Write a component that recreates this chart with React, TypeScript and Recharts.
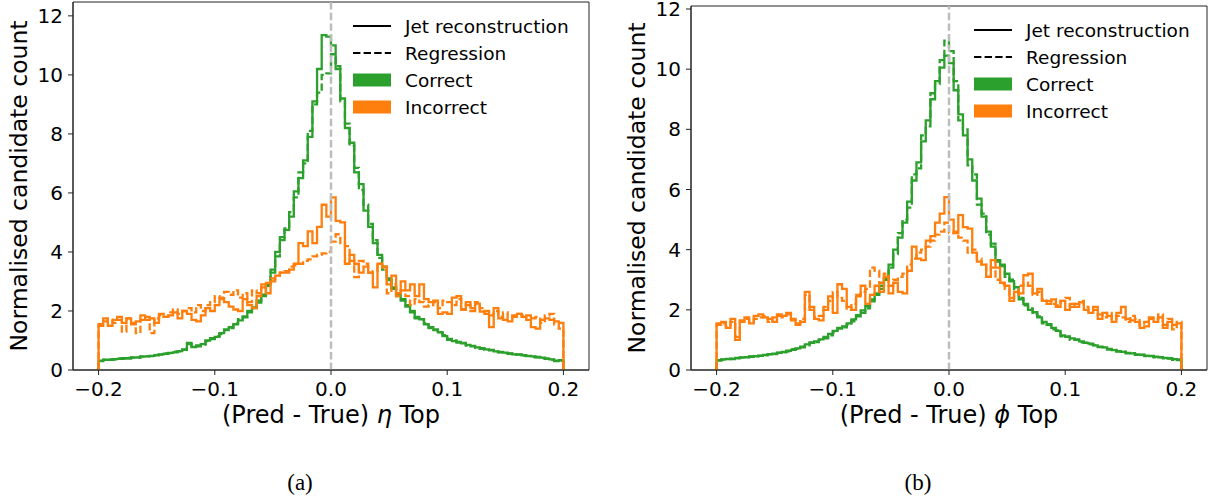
import React from 'react';
import { ComposedChart, Line, XAxis, YAxis, ReferenceLine, ReferenceArea, Legend, Label } from 'recharts';

// ---------- data ----------
const BIN_START = -0.2;
const BIN_WIDTH = 0.004;
const N_BINS = 100;
const BIN_EDGES: number[] = Array.from({ length: N_BINS + 1 }, (_, i) => +(BIN_START + BIN_WIDTH * i).toFixed(4));

const X_TICKS = [-0.2, -0.1, 0, 0.1, 0.2];
const X_TICK_LABELS = ['\u22120.2', '\u22120.1', '0.0', '0.1', '0.2'];
const Y_TICKS = [0, 2, 4, 6, 8, 10, 12];
const Y_TICK_LABELS = ['0', '2', '4', '6', '8', '10', '12'];

const LEGEND_LABELS = ['Jet reconstruction', 'Regression', 'Correct', 'Incorrect'];

// Panel (a): eta
const A_JET_CORRECT = [
  0.32, 0.35, 0.34, 0.37, 0.38, 0.40, 0.39, 0.42, 0.43, 0.45,
  0.46, 0.48, 0.50, 0.53, 0.55, 0.58, 0.60, 0.64, 0.68, 0.92,
  0.78, 0.80, 0.88, 1.00, 1.05, 1.12, 1.25, 1.35, 1.45, 1.55,
  1.68, 1.82, 1.95, 2.10, 2.28, 2.50, 2.90, 3.30, 4.00, 4.40,
  4.75, 5.20, 6.05, 6.50, 7.10, 7.90, 9.10, 10.20, 11.35, 11.30,
  11.00, 10.20, 9.20, 8.20, 7.70, 6.70, 6.30, 5.40, 4.85, 4.30,
  3.90, 3.50, 3.10, 2.80, 2.55, 2.35, 2.20, 1.95, 1.80, 1.72,
  1.55, 1.45, 1.35, 1.28, 1.15, 1.05, 0.98, 0.95, 0.90, 0.85,
  0.80, 0.77, 0.72, 0.70, 0.67, 0.63, 0.60, 0.59, 0.55, 0.53,
  0.52, 0.50, 0.47, 0.46, 0.43, 0.42, 0.38, 0.36, 0.30, 0.33,
];
const A_REG_CORRECT = [
  0.30, 0.34, 0.36, 0.35, 0.39, 0.38, 0.41, 0.43, 0.42, 0.46,
  0.47, 0.47, 0.51, 0.52, 0.56, 0.57, 0.62, 0.63, 0.70, 0.88,
  0.80, 0.83, 0.86, 0.98, 1.08, 1.15, 1.22, 1.38, 1.42, 1.58,
  1.72, 1.78, 2.00, 2.12, 2.35, 2.55, 2.85, 3.40, 3.85, 4.50,
  4.80, 5.35, 5.85, 6.70, 7.00, 8.10, 9.00, 9.40, 10.00, 10.05,
  10.70, 10.30, 9.10, 8.35, 7.60, 6.85, 6.10, 5.60, 4.95, 4.40,
  3.80, 3.40, 3.05, 2.75, 2.50, 2.40, 2.15, 2.00, 1.75, 1.70,
  1.58, 1.42, 1.38, 1.25, 1.18, 1.02, 1.00, 0.93, 0.92, 0.83,
  0.82, 0.75, 0.74, 0.68, 0.68, 0.62, 0.61, 0.57, 0.56, 0.52,
  0.53, 0.48, 0.48, 0.44, 0.44, 0.40, 0.39, 0.34, 0.32, 0.31,
];
const A_JET_INCORRECT = [
  1.55, 1.75, 1.50, 1.70, 1.80, 1.60, 1.75, 1.55, 1.65, 1.85,
  1.70, 1.75, 1.60, 1.90, 1.80, 1.85, 1.95, 1.75, 2.00, 1.90,
  1.70, 1.65, 1.85, 2.10, 2.00, 2.20, 2.40, 2.30, 2.15, 2.05,
  2.00, 2.40, 2.20, 2.10, 2.50, 2.90, 2.60, 3.00, 3.20, 3.30,
  3.30, 3.40, 3.60, 4.30, 4.20, 4.70, 4.30, 4.85, 5.60, 5.20,
  5.85, 5.05, 5.00, 3.60, 3.90, 3.60, 3.30, 3.50, 3.30, 2.80,
  3.60, 3.50, 2.90, 3.20, 2.60, 3.00, 2.70, 2.90, 2.50, 2.90,
  2.40, 2.30, 2.35, 1.90, 1.95, 1.90, 2.45, 2.50, 2.05, 2.30,
  2.10, 2.25, 1.98, 2.00, 1.45, 2.10, 1.75, 1.70, 1.65, 1.85,
  1.90, 1.80, 1.85, 1.45, 1.40, 1.70, 1.75, 1.70, 1.65, 1.60,
];
const A_REG_INCORRECT = [
  1.50, 1.65, 1.70, 1.60, 1.70, 1.30, 1.75, 1.60, 1.25, 1.70,
  1.80, 1.25, 1.75, 1.85, 1.80, 1.95, 2.05, 1.90, 2.00, 2.10,
  1.95, 2.20, 2.00, 2.20, 2.30, 2.50, 2.45, 2.65, 2.55, 2.70,
  2.45, 2.60, 2.30, 2.70, 2.60, 2.80, 2.95, 3.10, 3.20, 3.30,
  3.35, 3.50, 3.55, 3.60, 3.70, 3.75, 3.85, 3.90, 3.95, 4.00,
  4.35, 4.60, 4.30, 4.20, 3.70, 3.15, 3.70, 3.60, 3.30, 3.35,
  3.60, 3.40, 2.60, 2.90, 2.50, 2.70, 2.50, 2.20, 2.40, 2.30,
  2.15, 2.20, 2.30, 2.10, 2.35, 2.30, 2.20, 2.40, 2.05, 2.20,
  2.00, 2.30, 2.10, 1.90, 1.85, 2.00, 1.80, 1.95, 1.75, 1.80,
  1.90, 1.85, 1.70, 1.75, 1.80, 1.60, 1.85, 1.90, 1.55, 1.40,
];

// Panel (b): phi
const B_JET_CORRECT = [
  0.33, 0.35, 0.37, 0.36, 0.40, 0.41, 0.43, 0.44, 0.46, 0.47,
  0.50, 0.52, 0.54, 0.57, 0.60, 0.64, 0.67, 0.72, 0.78, 0.85,
  0.90, 0.95, 1.02, 1.10, 1.20, 1.30, 1.38, 1.45, 1.55, 1.68,
  1.82, 1.98, 2.12, 2.35, 2.55, 2.70, 3.05, 3.50, 4.00, 4.40,
  4.90, 5.60, 6.30, 6.90, 7.60, 8.30, 9.00, 9.60, 10.05, 10.45,
  10.20, 9.30, 8.50, 7.80, 7.00, 6.30, 5.70, 5.10, 4.60, 4.10,
  3.65, 3.45, 3.20, 2.95, 2.75, 2.35, 2.20, 2.00, 1.92, 1.75,
  1.60, 1.50, 1.40, 1.30, 1.15, 1.10, 1.05, 1.00, 0.95, 0.90,
  0.88, 0.82, 0.78, 0.75, 0.70, 0.66, 0.63, 0.60, 0.57, 0.55,
  0.52, 0.50, 0.48, 0.46, 0.44, 0.42, 0.40, 0.38, 0.36, 0.33,
];
const B_REG_CORRECT = [
  0.31, 0.34, 0.36, 0.38, 0.39, 0.42, 0.42, 0.45, 0.45, 0.48,
  0.49, 0.53, 0.53, 0.58, 0.59, 0.62, 0.69, 0.70, 0.75, 0.82,
  0.92, 0.93, 1.00, 1.05, 1.15, 1.25, 1.40, 1.42, 1.50, 1.62,
  1.78, 1.90, 2.05, 2.28, 2.50, 2.80, 3.00, 3.40, 3.85, 4.55,
  5.00, 5.40, 6.50, 6.70, 7.80, 8.10, 9.20, 9.50, 10.30, 10.95,
  10.60, 9.60, 8.30, 8.00, 6.80, 6.50, 5.50, 5.20, 4.50, 4.20,
  3.60, 3.50, 3.10, 3.00, 2.65, 2.40, 2.15, 2.05, 1.85, 1.78,
  1.55, 1.52, 1.35, 1.32, 1.12, 1.12, 1.00, 1.02, 0.92, 0.91,
  0.85, 0.83, 0.76, 0.76, 0.68, 0.67, 0.61, 0.61, 0.55, 0.56,
  0.50, 0.51, 0.46, 0.47, 0.42, 0.43, 0.39, 0.39, 0.34, 0.35,
];
const B_JET_INCORRECT = [
  1.55, 1.60, 1.40, 1.70, 1.00, 1.65, 1.75, 1.55, 1.80, 1.85,
  1.75, 1.70, 1.60, 1.85, 1.80, 1.90, 1.70, 1.50, 1.60, 2.60,
  2.10, 1.70, 1.65, 2.00, 2.45, 1.90, 2.85, 2.70, 2.10, 2.00,
  2.45, 2.80, 2.20, 2.50, 2.80, 2.60, 3.10, 2.55, 2.90, 2.60,
  2.55, 3.30, 4.10, 3.70, 3.65, 4.30, 4.45, 4.90, 5.20, 5.75,
  5.00, 4.55, 5.15, 4.75, 4.70, 3.90, 3.60, 3.50, 3.10, 3.65,
  3.40, 2.90, 2.80, 2.30, 2.60, 2.55, 3.15, 3.20, 2.55, 2.70,
  2.30, 2.20, 2.35, 2.10, 2.30, 2.00, 2.20, 2.10, 2.25, 2.00,
  1.90, 2.10, 1.70, 1.90, 1.80, 1.60, 1.90, 2.10, 1.70, 1.65,
  1.60, 1.40, 1.45, 1.70, 1.60, 1.75, 1.40, 1.60, 1.50, 1.55,
];
const B_REG_INCORRECT = [
  1.50, 1.55, 1.45, 1.60, 1.10, 1.60, 1.70, 1.60, 1.70, 1.75,
  1.80, 1.60, 1.75, 1.80, 1.75, 1.85, 1.65, 1.55, 1.70, 2.50,
  2.00, 1.75, 1.80, 2.10, 2.30, 2.60, 2.40, 2.30, 2.00, 2.20,
  2.50, 2.60, 2.70, 3.40, 3.30, 2.90, 3.20, 2.80, 3.00, 3.10,
  3.20, 3.50, 3.70, 3.90, 4.00, 4.10, 4.30, 4.50, 4.60, 4.90,
  4.55, 4.60, 4.40, 4.30, 3.90, 4.00, 3.70, 3.50, 3.30, 3.40,
  3.00, 2.85, 2.70, 2.40, 2.50, 2.80, 2.90, 2.80, 2.50, 2.60,
  2.35, 2.30, 2.20, 2.15, 2.30, 2.40, 2.10, 2.20, 2.30, 2.10,
  1.95, 2.00, 1.85, 1.75, 1.90, 1.70, 1.80, 1.75, 1.60, 1.80,
  1.70, 1.50, 1.60, 1.75, 1.70, 1.85, 1.50, 1.70, 1.35, 1.60,
];

// ---------- styling ----------
const GREEN = '#2ca02c';
const ORANGE = '#ff7f0e';
const FONT = 'DejaVu Sans, sans-serif';
const DASH = '7.4 3.2';
const LW = 2.3;
const X_DOMAIN: [number, number] = [-0.222, 0.222];

type Row = { x: number; jc: number; rc: number; ji: number; ri: number };

function buildTable(jc: number[], rc: number[], ji: number[], ri: number[]): Row[] {
  const rows: Row[] = [];
  rows.push({ x: BIN_EDGES[0], jc: 0, rc: 0, ji: 0, ri: 0 });
  for (let i = 0; i < N_BINS; i++) {
    rows.push({ x: BIN_EDGES[i], jc: jc[i], rc: rc[i], ji: ji[i], ri: ri[i] });
  }
  const L = N_BINS - 1;
  rows.push({ x: BIN_EDGES[N_BINS], jc: jc[L], rc: rc[L], ji: ji[L], ri: ri[L] });
  rows.push({ x: BIN_EDGES[N_BINS], jc: 0, rc: 0, ji: 0, ri: 0 });
  return rows;
}

const DATA_A = buildTable(A_JET_CORRECT, A_REG_CORRECT, A_JET_INCORRECT, A_REG_INCORRECT);
const DATA_B = buildTable(B_JET_CORRECT, B_REG_CORRECT, B_JET_INCORRECT, B_REG_INCORRECT);

function LegendBox() {
  return (
    <div style={{ fontFamily: FONT, fontSize: 18.5, color: '#000', lineHeight: '27px' }}>
      {LEGEND_LABELS.map((lab, i) => (
        <div key={lab} style={{ display: 'flex', alignItems: 'center', height: 27, whiteSpace: 'nowrap' }}>
          <svg width={38} height={14} style={{ marginRight: 14, display: 'block' }}>
            {i === 0 && <line x1={0} y1={7} x2={38} y2={7} stroke="#000" strokeWidth={2.2} />}
            {i === 1 && <line x1={0} y1={7} x2={38} y2={7} stroke="#000" strokeWidth={2.2} strokeDasharray={DASH} />}
            {i === 2 && <rect x={0} y={0.5} width={38} height={13} fill={GREEN} />}
            {i === 3 && <rect x={0} y={0.5} width={38} height={13} fill={ORANGE} />}
          </svg>
          <span>{lab}</span>
        </div>
      ))}
    </div>
  );
}

type PanelProps = {
  data: Row[];
  width: number;
  marginRight: number;
  marginTop: number;
  yMax: number;
  symbol: string;
  legendLeft: number;
  legendTop: number;
};

function Panel({ data, width, marginRight, marginTop, yMax, symbol, legendLeft, legendTop }: PanelProps) {
  const tickStyle = { fontSize: 20, fontFamily: FONT, fill: '#000' };
  const axisLine = { stroke: '#222', strokeWidth: 1 };
  return (
    <ComposedChart
      width={width}
      height={440}
      data={data}
      margin={{ top: marginTop, right: marginRight, bottom: 10, left: 23 }}
    >
      <XAxis
        dataKey="x"
        type="number"
        domain={X_DOMAIN}
        allowDataOverflow
        ticks={X_TICKS}
        tickFormatter={(v: number) => X_TICK_LABELS[X_TICKS.indexOf(v)] ?? String(v)}
        tick={tickStyle}
        tickSize={5}
        tickMargin={7}
        tickLine={{ stroke: '#222' }}
        axisLine={axisLine}
        height={60}
        interval={0}
      >
        <Label
          content={(props: any) => {
            const vb = props.viewBox || {};
            const cx = vb.x + vb.width / 2;
            const y = vb.y + 53;
            return (
              <text x={cx} y={y} textAnchor="middle" fontFamily={FONT} fontSize={24} fill="#000">
                <tspan>(Pred - True) </tspan>
                <tspan fontStyle="italic">{symbol}</tspan>
                <tspan> Top</tspan>
              </text>
            );
          }}
        />
      </XAxis>
      <YAxis
        type="number"
        domain={[0, yMax]}
        allowDataOverflow
        ticks={Y_TICKS}
        tickFormatter={(v: number) => Y_TICK_LABELS[Y_TICKS.indexOf(v)] ?? String(v)}
        tick={tickStyle}
        tickSize={5}
        tickMargin={5}
        tickLine={{ stroke: '#222' }}
        axisLine={axisLine}
        width={50}
        interval={0}
      >
        <Label
          content={(props: any) => {
            const vb = props.viewBox || {};
            const x = 27;
            const cy = vb.y + vb.height / 2;
            return (
              <text
                x={x}
                y={cy}
                textAnchor="middle"
                transform={`rotate(-90, ${x}, ${cy})`}
                fontFamily={FONT}
                fontSize={23.5}
                fill="#000"
              >
                Normalised candidate count
              </text>
            );
          }}
        />
      </YAxis>
      <ReferenceArea x1={X_DOMAIN[0]} x2={X_DOMAIN[1]} y1={0} y2={yMax} fill="none" fillOpacity={0} stroke="#222" strokeWidth={1} ifOverflow="visible" />
      <Line type="stepAfter" dataKey="jc" stroke={GREEN} strokeWidth={LW} dot={false} activeDot={false} isAnimationActive={false} />
      <Line type="stepAfter" dataKey="rc" stroke={GREEN} strokeWidth={LW} strokeDasharray={DASH} dot={false} activeDot={false} isAnimationActive={false} />
      <Line type="stepAfter" dataKey="ji" stroke={ORANGE} strokeWidth={LW} dot={false} activeDot={false} isAnimationActive={false} />
      <Line type="stepAfter" dataKey="ri" stroke={ORANGE} strokeWidth={LW} strokeDasharray={DASH} dot={false} activeDot={false} isAnimationActive={false} />
      <ReferenceLine x={0} stroke="#bdbdbd" strokeWidth={2.5} strokeDasharray={DASH} />
      <Legend
        layout="vertical"
        align="center"
        verticalAlign="middle"
        content={() => <LegendBox />}
        wrapperStyle={{ position: 'absolute', left: legendLeft, top: legendTop, width: 240, height: 110 }}
      />
    </ComposedChart>
  );
}

export default function App() {
  return (
    <div style={{ position: 'absolute', left: 0, top: 0, width: 1216, height: 504, background: '#fff', overflow: 'hidden' }}>
      <div style={{ position: 'absolute', left: 0, top: 0 }}>
        <Panel data={DATA_A} width={610} marginRight={21} marginTop={2} yMax={12.47} symbol={'\u03b7'} legendLeft={353} legendTop={12.5} />
      </div>
      <div style={{ position: 'absolute', left: 618, top: 0 }}>
        <Panel data={DATA_B} width={598} marginRight={9} marginTop={6} yMax={12.1} symbol={'\u03d5'} legendLeft={356} legendTop={16.5} />
      </div>
      <div style={{ position: 'absolute', left: 250, width: 100, top: 470, textAlign: 'center', fontFamily: 'Liberation Serif, serif', fontSize: 23, lineHeight: '26px' }}>(a)</div>
      <div style={{ position: 'absolute', left: 868, width: 100, top: 470, textAlign: 'center', fontFamily: 'Liberation Serif, serif', fontSize: 23, lineHeight: '26px' }}>(b)</div>
    </div>
  );
}
